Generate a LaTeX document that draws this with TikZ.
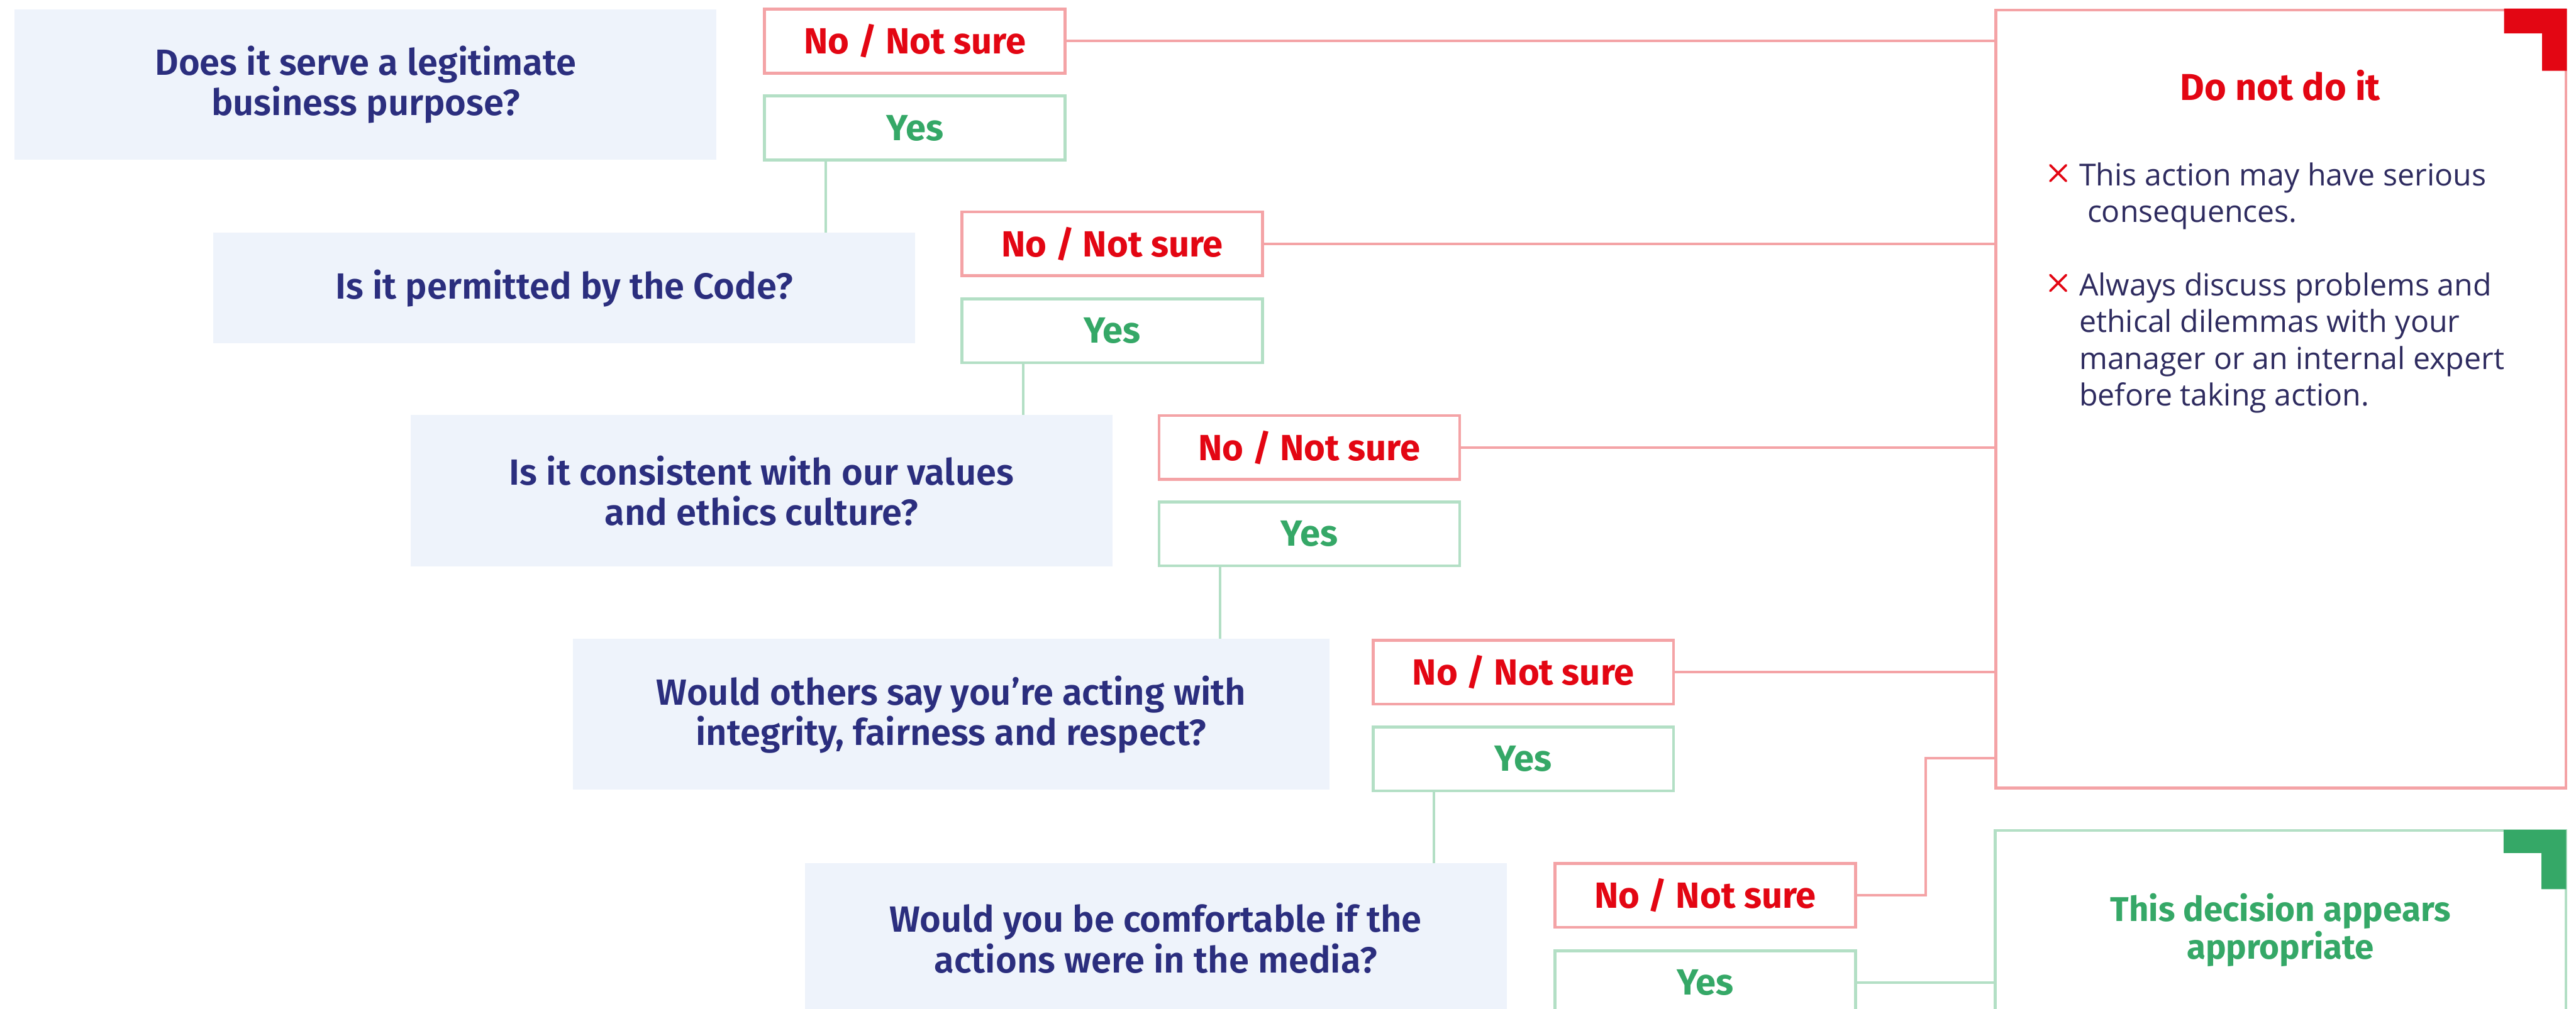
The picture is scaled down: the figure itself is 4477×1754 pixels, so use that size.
\documentclass[tikz,border=0pt]{standalone}
\usepackage{fontspec}
\setmainfont{Fira Sans}
\newfontfamily\qf{Fira Sans SemiBold}
\newfontfamily\fira{Fira Sans}
\newfontfamily\osans{Open Sans}
\definecolor{navy}{RGB}{43,46,126}
\definecolor{qbg}{RGB}{238,243,251}
\definecolor{redtxt}{RGB}{227,6,19}
\definecolor{pinkln}{RGB}{244,163,166}
\definecolor{greentxt}{RGB}{53,168,103}
\definecolor{greenln}{RGB}{179,223,197}
\definecolor{bultxt}{RGB}{46,43,95}
\begin{document}
\begin{tikzpicture}[x=0.01cm,y=-0.01cm,
  qbox/.style={fill=qbg, inner sep=0pt, outer sep=0pt, minimum width=12.19cm, text=navy, align=center, font=\qf\fontsize{18}{20}\selectfont},
  ansbox/.style={line width=0.05cm, fill=white, minimum width=5.22cm, minimum height=1.11cm, inner sep=0pt, outer sep=0pt, font=\fira\bfseries\fontsize{18}{20}\selectfont},
  nobox/.style={ansbox, draw=pinkln, text=redtxt},
  yesbox/.style={ansbox, draw=greenln, text=greentxt},
  noln/.style={draw=pinkln, line width=0.045cm},
  yesln/.style={draw=greenln, line width=0.045cm},
  bul/.style={anchor=north west, inner sep=0pt, align=left, text=bultxt, font=\osans\fontsize{15}{18.2}\selectfont},
  xm/.style={draw=redtxt, line width=0.04cm, line cap=round}
]
\useasboundingbox (0,0) rectangle (4477,1754);
\clip (0,0) rectangle (4477,1754);

% question boxes
\node[qbox, minimum height=2.60cm] (Q1) at (635.5,147) {Does it serve a legitimate\\business purpose?};
\node[qbox, minimum height=1.92cm] (Q2) at (980.5,501) {Is it permitted by the Code?};
\node[qbox, minimum height=2.63cm] (Q3) at (1323.5,853.5) {Is it consistent with our values\\and ethics culture?};
\node[qbox, minimum height=2.62cm, minimum width=13.14cm] (Q4) at (1653,1242) {Would others say you’re acting with\\integrity, fairness and respect?};
\node[qbox, minimum height=2.60cm] (Q5) at (2008.5,1631) {Would you be comfortable if the\\actions were in the media?};

% answer boxes
\node[nobox] (No1) at (1590,71.5) {No / Not sure};
\node[yesbox] (Yes1) at (1590,222.5) {Yes};
\node[nobox] (No2) at (1933,424) {No / Not sure};
\node[yesbox] (Yes2) at (1933,575) {Yes};
\node[nobox] (No3) at (2275.5,778) {No / Not sure};
\node[yesbox] (Yes3) at (2275.5,928) {Yes};
\node[nobox] (No4) at (2647.5,1168.5) {No / Not sure};
\node[yesbox] (Yes4) at (2647.5,1319.5) {Yes};
\node[nobox] (No5) at (2963.5,1556.5) {No / Not sure};
\node[yesbox] (Yes5) at (2963.5,1708.5) {Yes};

% outcome boxes
\node[draw=pinkln, line width=0.05cm, minimum width=9.90cm, minimum height=13.52cm, inner sep=0pt, outer sep=0pt] (Dn) at (3964,694) {};
\node[draw=greenln, line width=0.05cm, minimum width=9.91cm, minimum height=3.46cm, inner sep=0pt, outer sep=0pt, text=greentxt, align=center, font=\fira\bfseries\fontsize{17}{18.8}\selectfont] (Gn) at (3963.5,1617) {This decision appears\\appropriate};

% corner marks
\fill[redtxt] (4352,15) -- (4461,15) -- (4461,123) -- (4418,123) -- (4418,58) -- (4352,58) -- cycle;
\fill[greentxt] (4351,1443) -- (4460,1443) -- (4460,1546) -- (4417,1546) -- (4417,1483) -- (4351,1483) -- cycle;

% Do not do it content
\node[inner sep=0pt, text=redtxt, font=\fira\bfseries\fontsize{18.5}{20}\selectfont] (DnT) at (3963,148) {Do not do it};
\draw[xm] (3563,287) -- (3591,315) (3591,287) -- (3563,315);
\node[bul] (B1) at (3613,282) {This action may have serious\\\hspace{0.14cm}consequences.};
\draw[xm] (3563,478) -- (3591,506) (3591,478) -- (3563,506);
\node[bul] (B2) at (3613,473) {Always discuss problems and\\ethical dilemmas with your\\manager or an internal expert\\before taking action.};

% yes connectors
\draw[yesln] ([xshift=1.06cm]Yes1.south west) -- ([xshift=1.06cm]Yes1.south west |- Q2.north);
\draw[yesln] ([xshift=1.06cm]Yes2.south west) -- ([xshift=1.06cm]Yes2.south west |- Q3.north);
\draw[yesln] ([xshift=1.06cm]Yes3.south west) -- ([xshift=1.06cm]Yes3.south west |- Q4.north);
\draw[yesln] ([xshift=1.06cm]Yes4.south west) -- ([xshift=1.06cm]Yes4.south west |- Q5.north);
\draw[yesln] (Yes5.east) -- (Yes5.east -| Gn.west);

% no connectors
\draw[noln] (No1.east) -- (No1.east -| Dn.west);
\draw[noln] (No2.east) -- (No2.east -| Dn.west);
\draw[noln] (No3.east) -- (No3.east -| Dn.west);
\draw[noln] (No4.east) -- (No4.east -| Dn.west);
\coordinate (K5) at (3347,1318);
\draw[noln] (No5.east) -| (K5) -- (K5 -| Dn.west);
\end{tikzpicture}
\end{document}
